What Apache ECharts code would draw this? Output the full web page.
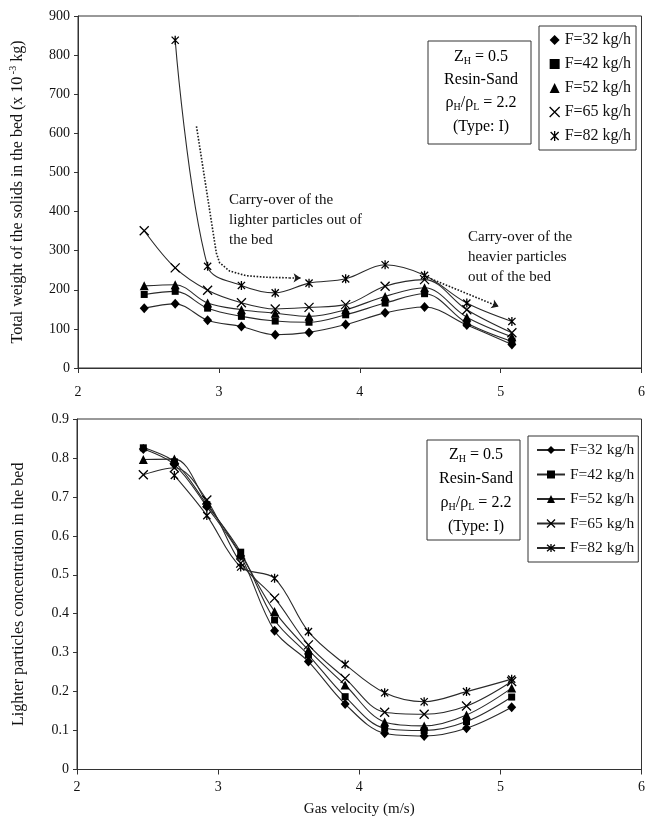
<!DOCTYPE html>
<html>
<head>
<meta charset="utf-8">
<script src="https://cdn.jsdelivr.net/npm/echarts@6/dist/echarts.min.js"></script>
<style>
  html, body { margin: 0; padding: 0; background: #fff; }
  #chart { width: 648px; height: 829px; }
</style>
</head>
<body>
<div id="chart"></div>
<script>
// Gas velocity (m/s) at which each run was measured
const velocity = [2.47, 2.69, 2.92, 3.16, 3.40, 3.64, 3.90, 4.18, 4.46, 4.76, 5.08];

// Feed rates, one series per rate
const feedRates = ['F=32 kg/h', 'F=42 kg/h', 'F=52 kg/h', 'F=65 kg/h', 'F=82 kg/h'];

// Total weight of solids in the bed (x 10^-3 kg)
const weight32 = [153, 164, 122, 106, 85, 91, 111, 141, 156, 110, 60];
const weight42 = [188, 196, 153, 132, 120, 117, 136, 166, 190, 115, 68];
const weight52 = [210, 213, 166, 149, 140, 132, 149, 183, 205, 130, 80];
const weight65 = [351, 256, 199, 167, 151, 155, 162, 209, 226, 149, 90];
const weight82 = [null, 838, 260, 211, 192, 217, 228, 264, 237, 166, 119];

// Lighter particles concentration in the bed
const conc32 = [0.823, 0.783, 0.675, 0.548, 0.356, 0.277, 0.168, 0.093, 0.086, 0.106, 0.160];
const conc42 = [0.826, 0.790, 0.680, 0.558, 0.384, 0.294, 0.187, 0.106, 0.100, 0.123, 0.186];
const conc52 = [0.796, 0.797, 0.685, 0.553, 0.406, 0.307, 0.217, 0.122, 0.112, 0.140, 0.209];
const conc65 = [0.757, 0.775, 0.692, 0.530, 0.440, 0.320, 0.234, 0.147, 0.142, 0.163, 0.226];
const conc82 = [null, 0.755, 0.652, 0.520, 0.491, 0.354, 0.270, 0.197, 0.174, 0.200, 0.232];

// Axis ranges and tick steps
const velocityAxis = { min: 2, max: 6, step: 1 };
const weightAxis = { min: 0, max: 900, step: 100 };
const concAxis = { min: 0, max: 0.9, step: 0.1 };

// Dotted guide arrows in the upper plot, in (velocity, weight) units
const lighterArrowPath = [[2.841, 618], [2.982, 294], [3.005, 269], [3.076, 248], [3.193, 236], [3.334, 232], [3.50, 230.5]];
const lighterArrowHead = [[3.50, 230.5], [3.58, 230]];
const heavierArrow = [[4.505, 228], [4.986, 157]];

const weightSets = [weight32, weight42, weight52, weight65, weight82];
const concSets = [conc32, conc42, conc52, conc65, conc82];

const FONT = '"Liberation Serif", "Times New Roman", serif';
const INK = '#111';
const LINE = '#2a2a2a';

const crossPath = 'path://M1,1L9,9M9,1L1,9';
const starPath = 'path://M1,1L9,9M9,1L1,9M5,0L5,10';
const markers = [
  { symbol: 'diamond', size: [9, 10], stroke: false },
  { symbol: 'rect', size: 7, stroke: false },
  { symbol: 'triangle', size: 9, stroke: false },
  { symbol: crossPath, size: 9, stroke: true },
  { symbol: starPath, size: 9, stroke: true }
];

function pairs(values) {
  const out = [];
  values.forEach((v, i) => { if (v !== null) out.push([velocity[i], v]); });
  return out;
}

function markerStyle(m) {
  return m.stroke
    ? { color: '#000', borderColor: '#000', borderWidth: 1.3 }
    : { color: '#000', borderWidth: 0 };
}

function lineSeries(name, values, gridIdx, m) {
  return {
    name: name,
    type: 'line',
    xAxisIndex: gridIdx,
    yAxisIndex: gridIdx,
    data: pairs(values),
    smooth: 0.35,
    symbol: m.symbol,
    symbolSize: m.size,
    symbolKeepAspect: true,
    showAllSymbol: true,
    lineStyle: { color: LINE, width: 1.1 },
    itemStyle: markerStyle(m),
    emphasis: { disabled: true },
    animation: false,
    z: 3
  };
}

const series = [];
feedRates.forEach((name, i) => series.push(lineSeries(name, weightSets[i], 0, markers[i])));
feedRates.forEach((name, i) => series.push(lineSeries(name, concSets[i], 1, markers[i])));

const arrowLine = { color: '#1a1a1a', width: 1.6, type: 'dotted', opacity: 1 };
series.push({
  type: 'lines', coordinateSystem: 'cartesian2d', xAxisIndex: 0, yAxisIndex: 0,
  polyline: true, silent: true, animation: false, z: 2,
  lineStyle: arrowLine,
  data: [{ coords: lighterArrowPath }]
});
series.push({
  type: 'lines', coordinateSystem: 'cartesian2d', xAxisIndex: 0, yAxisIndex: 0,
  silent: true, animation: false, z: 2,
  symbol: ['none', 'arrow'], symbolSize: 7,
  lineStyle: arrowLine,
  data: [{ coords: lighterArrowHead }, { coords: heavierArrow }]
});

function xAxis(gridIdx, labelMargin, withName) {
  return {
    type: 'value', gridIndex: gridIdx,
    min: velocityAxis.min, max: velocityAxis.max, interval: velocityAxis.step,
    axisLine: { show: true, lineStyle: { color: '#333', width: 1 } },
    axisTick: { show: true, length: 5, lineStyle: { color: '#333' } },
    axisLabel: { color: INK, fontFamily: FONT, fontSize: 14, margin: labelMargin },
    splitLine: { show: false },
    name: withName ? 'Gas velocity (m/s)' : '',
    nameLocation: 'middle', nameGap: 32,
    nameTextStyle: { color: INK, fontFamily: FONT, fontSize: 15 }
  };
}

function yAxis(gridIdx, range, formatter, name, rich) {
  return {
    type: 'value', gridIndex: gridIdx,
    min: range.min, max: range.max, interval: range.step,
    axisLine: { show: true, lineStyle: { color: '#333', width: 1 } },
    axisTick: { show: true, length: 4, lineStyle: { color: '#333' } },
    axisLabel: { color: INK, fontFamily: FONT, fontSize: 14, margin: 8, formatter: formatter },
    splitLine: { show: false },
    name: name, nameLocation: 'middle', nameGap: 50,
    nameTextStyle: { color: INK, fontFamily: FONT, fontSize: 16, rich: rich }
  };
}

const titleRich = {
  a: { fontFamily: FONT, fontSize: 16, color: INK, lineHeight: 20 },
  s: { fontFamily: FONT, fontSize: 10, color: INK, lineHeight: 10, verticalAlign: 'top' }
};

function legendBlock(left, top, fontSize, withIcons, itemWidth, gap, padding) {
  return {
    orient: 'vertical', left: left, top: top,
    padding: padding, itemGap: gap,
    itemWidth: itemWidth, itemHeight: 10,
    borderColor: '#333', borderWidth: 1, backgroundColor: '#fff',
    selectedMode: false,
    textStyle: { color: INK, fontFamily: FONT, fontSize: fontSize },
    data: feedRates.map((name, i) => {
      const item = { name: name, itemStyle: markerStyle(markers[i]) };
      if (withIcons) item.icon = markers[i].symbol;
      return item;
    })
  };
}

const rn = { fontFamily: FONT, fontSize: 16, color: INK, lineHeight: 18 };
const rs = { fontFamily: FONT, fontSize: 10, color: INK, lineHeight: 11, verticalAlign: 'bottom' };
function infoBox(x, y, w, h, cx, rows) {
  const lines = [
    '{n|Z}{s|H}{n| = 0.5}',
    '{n|Resin-Sand}',
    '{n|\u03c1}{s|H}{n|/\u03c1}{s|L}{n| = 2.2}',
    '{n|(Type: I)}'
  ];
  const els = [{
    type: 'rect', shape: { x: x, y: y, width: w, height: h },
    style: { fill: '#fff', stroke: '#333', lineWidth: 1 }, z: 10
  }];
  lines.forEach((t, i) => {
    els.push({
      type: 'text', x: cx, y: rows[i], z: 11,
      style: { text: t, rich: { n: rn, s: rs }, align: 'center', verticalAlign: 'middle' }
    });
  });
  return els;
}

function note(x, y, text) {
  return {
    type: 'text', x: x, y: y, z: 11,
    style: {
      text: text, fill: INK, font: '15px ' + FONT, lineHeight: 20,
      align: 'left', verticalAlign: 'top'
    }
  };
}

const chart = echarts.init(document.getElementById('chart'), null, { renderer: 'canvas' });
chart.setOption({
  backgroundColor: '#fff',
  animation: false,
  grid: [
    { left: 77, top: 16, width: 569, height: 352, show: true, borderColor: '#333', borderWidth: 1 },
    { left: 77, top: 419, width: 569, height: 350.5, show: true, borderColor: '#333', borderWidth: 1 }
  ],
  xAxis: [xAxis(0, 17, false), xAxis(1, 11, true)],
  yAxis: [
    yAxis(0, weightAxis, v => String(v),
      '{a|Total weight of the solids in the bed (x 10}{s| -3}{a| kg)}', titleRich),
    yAxis(1, concAxis, v => (v === 0 ? '0' : v.toFixed(1)),
      'Lighter particles concentration in the bed', null)
  ],
  legend: [
    legendBlock(539, 26, 16, true, 10, 8, [6, 5, 6, 10]),
    legendBlock(528, 436, 15.5, false, 28, 8.5, [6, 4, 6, 8])
  ],
  graphic: [
    ...infoBox(428, 41, 103, 103, 481, [57, 80, 103, 127]),
    ...infoBox(427, 440, 93, 100, 476, [455, 479, 503, 527]),
    note(229, 190, 'Carry-over of the\nlighter particles out of\nthe bed'),
    note(468, 227, 'Carry-over of the\nheavier particles\nout of the bed')
  ],
  series: series
});
</script>
</body>
</html>
